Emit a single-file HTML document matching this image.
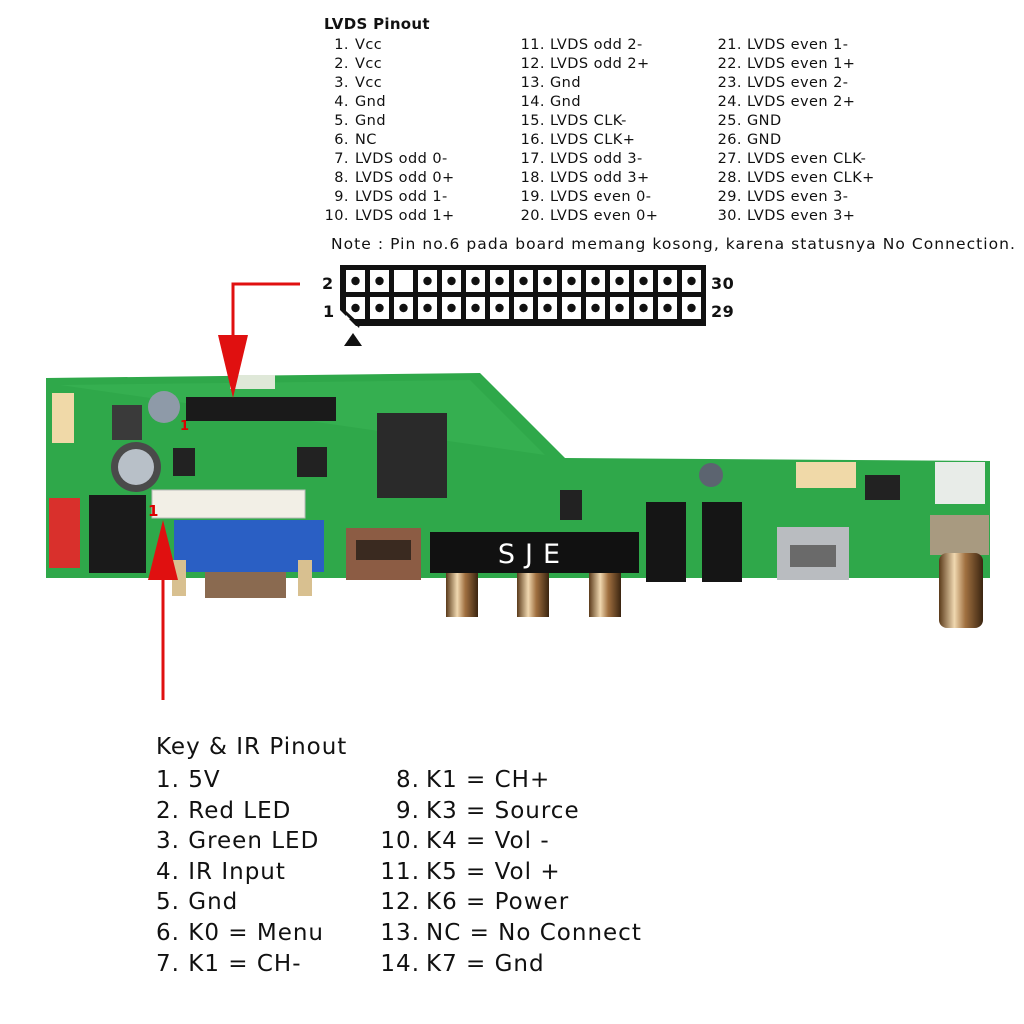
<!DOCTYPE html>
<html><head><meta charset="utf-8"><style>
html,body{margin:0;padding:0;background:#fff;width:1024px;height:1024px;overflow:hidden}
svg{display:block}
.t{font-family:"DejaVu Sans","Liberation Sans",sans-serif;font-size:14.5px;fill:#111;letter-spacing:0.45px}
.k{font-family:"DejaVu Sans","Liberation Sans",sans-serif;font-size:23px;fill:#111;letter-spacing:1px}
</style></head><body>
<svg width="1024" height="1024" viewBox="0 0 1024 1024" xmlns="http://www.w3.org/2000/svg">
<defs>
<pattern id="cell" x="343" y="268" width="24" height="27" patternUnits="userSpaceOnUse">
<rect width="24" height="27" fill="#111"/><rect x="3" y="2" width="19" height="22" fill="#fff"/><circle cx="12.5" cy="13" r="4.2" fill="#111"/>
</pattern>
<linearGradient id="gold" x1="0" x2="1"><stop offset="0" stop-color="#5a3a1a"/><stop offset=".35" stop-color="#f0d8b0"/><stop offset=".6" stop-color="#a07040"/><stop offset="1" stop-color="#3a2410"/></linearGradient>
</defs>
<text class="t" x="324" y="29" style="font-weight:bold;font-size:15px;letter-spacing:0.3px">LVDS Pinout</text>
<g class="t" text-anchor="end">
<text x="349" y="49">1.</text><text x="349" y="68">2.</text><text x="349" y="87">3.</text><text x="349" y="106">4.</text><text x="349" y="125">5.</text><text x="349" y="144">6.</text><text x="349" y="163">7.</text><text x="349" y="182">8.</text><text x="349" y="201">9.</text><text x="349" y="220">10.</text>
<text x="545" y="49">11.</text><text x="545" y="68">12.</text><text x="545" y="87">13.</text><text x="545" y="106">14.</text><text x="545" y="125">15.</text><text x="545" y="144">16.</text><text x="545" y="163">17.</text><text x="545" y="182">18.</text><text x="545" y="201">19.</text><text x="545" y="220">20.</text>
<text x="742" y="49">21.</text><text x="742" y="68">22.</text><text x="742" y="87">23.</text><text x="742" y="106">24.</text><text x="742" y="125">25.</text><text x="742" y="144">26.</text><text x="742" y="163">27.</text><text x="742" y="182">28.</text><text x="742" y="201">29.</text><text x="742" y="220">30.</text>
</g>
<g class="t">
<text x="355" y="49">Vcc</text><text x="355" y="68">Vcc</text><text x="355" y="87">Vcc</text><text x="355" y="106">Gnd</text><text x="355" y="125">Gnd</text><text x="355" y="144">NC</text><text x="355" y="163">LVDS odd 0-</text><text x="355" y="182">LVDS odd 0+</text><text x="355" y="201">LVDS odd 1-</text><text x="355" y="220">LVDS odd 1+</text>
<text x="550" y="49">LVDS odd 2-</text><text x="550" y="68">LVDS odd 2+</text><text x="550" y="87">Gnd</text><text x="550" y="106">Gnd</text><text x="550" y="125">LVDS CLK-</text><text x="550" y="144">LVDS CLK+</text><text x="550" y="163">LVDS odd 3-</text><text x="550" y="182">LVDS odd 3+</text><text x="550" y="201">LVDS even 0-</text><text x="550" y="220">LVDS even 0+</text>
<text x="747" y="49">LVDS even 1-</text><text x="747" y="68">LVDS even 1+</text><text x="747" y="87">LVDS even 2-</text><text x="747" y="106">LVDS even 2+</text><text x="747" y="125">GND</text><text x="747" y="144">GND</text><text x="747" y="163">LVDS even CLK-</text><text x="747" y="182">LVDS even CLK+</text><text x="747" y="201">LVDS even 3-</text><text x="747" y="220">LVDS even 3+</text>
<text x="331" y="249" style="font-size:15.5px;letter-spacing:1.05px">Note : Pin no.6 pada board memang kosong, karena statusnya No Connection.</text>
</g>
<!-- connector -->
<rect x="340" y="265" width="366" height="61" fill="#111"/>
<rect x="343" y="268" width="360" height="54" fill="url(#cell)"/>
<rect x="394" y="270" width="19" height="22" fill="#fff"/>
<polygon points="340,300 340,310 357,327 340,327" fill="#fff"/>
<polygon points="343,300 346,300 346,311 360,324 359,328 342,311" fill="#111"/>
<polygon points="353,333 344,346 362,346" fill="#111"/>
<g class="t" style="font-weight:bold;font-size:16px;letter-spacing:0.5px">
<text x="322" y="289">2</text><text x="323" y="317">1</text><text x="711" y="289">30</text><text x="711" y="317">29</text>
</g>
<!-- board -->
<polygon points="46,378 480,373 565,458 990,461 990,578 46,578" fill="#2fa84a"/>
<polygon points="60,385 470,380 545,455" fill="#3cb655" opacity=".5"/>
<rect x="186" y="397" width="150" height="24" fill="#1a1a1a"/>
<rect x="230" y="375" width="45" height="14" fill="#dfe8d8"/>
<rect x="377" y="413" width="70" height="85" fill="#2a2a2a"/>
<rect x="52" y="393" width="22" height="50" fill="#f0d9a8"/>
<rect x="112" y="405" width="30" height="35" fill="#3a3a3a"/>
<circle cx="164" cy="407" r="16" fill="#8e9aa8"/>
<circle cx="136" cy="467" r="25" fill="#4a4a4a"/><circle cx="136" cy="467" r="18" fill="#b8c0c8"/>
<rect x="173" y="448" width="22" height="28" fill="#222"/>
<rect x="297" y="447" width="30" height="30" fill="#222"/>
<rect x="560" y="490" width="22" height="30" fill="#222"/>
<circle cx="711" cy="475" r="12" fill="#5c6470"/>
<rect x="796" y="462" width="60" height="26" fill="#f0d9a8"/>
<rect x="865" y="475" width="35" height="25" fill="#222"/>
<rect x="935" y="462" width="50" height="42" fill="#e8ece8"/>
<rect x="152" y="490" width="153" height="28" fill="#f2efe6" stroke="#bbb"/>
<rect x="49" y="498" width="31" height="70" fill="#d9302c"/>
<rect x="89" y="495" width="57" height="78" fill="#1a1a1a"/>
<rect x="174" y="520" width="150" height="52" fill="#2a5fc4"/>
<rect x="205" y="572" width="81" height="26" fill="#8a6a50"/>
<rect x="172" y="560" width="14" height="36" fill="#d8c090"/>
<rect x="298" y="560" width="14" height="36" fill="#d8c090"/>
<rect x="346" y="528" width="75" height="52" fill="#8c5c44"/>
<rect x="356" y="540" width="55" height="20" fill="#3a2a20"/>
<rect x="446" y="570" width="32" height="47" fill="url(#gold)"/>
<rect x="517" y="570" width="32" height="47" fill="url(#gold)"/>
<rect x="589" y="570" width="32" height="47" fill="url(#gold)"/>
<rect x="430" y="532" width="209" height="41" fill="#111"/>
<text x="534" y="563" text-anchor="middle" style="font-family:'DejaVu Sans',sans-serif;font-size:27px;fill:#fff;letter-spacing:10px">SJE</text>
<rect x="646" y="502" width="40" height="80" fill="#151515"/>
<rect x="702" y="502" width="40" height="80" fill="#151515"/>
<rect x="777" y="527" width="72" height="53" fill="#b9bcc0"/>
<rect x="790" y="545" width="46" height="22" fill="#6a6a6a"/>
<rect x="930" y="515" width="59" height="40" fill="#a89a80"/>
<rect x="939" y="553" width="44" height="75" rx="8" fill="url(#gold)"/>
<!-- red markers -->
<text x="180" y="430" style="font-family:'DejaVu Sans',sans-serif;font-size:13px;font-weight:bold;fill:#d00">1</text>
<text x="148" y="516" style="font-family:'DejaVu Sans',sans-serif;font-size:15px;font-weight:bold;fill:#d00">1</text>
<!-- arrows -->
<polyline points="300,284 233,284 233,345" fill="none" stroke="#e01010" stroke-width="3"/>
<polygon points="218,335 248,335 233,398" fill="#e01010"/>
<line x1="163" y1="700" x2="163" y2="555" stroke="#e01010" stroke-width="3"/>
<polygon points="148,580 178,580 163,520" fill="#e01010"/>
<!-- key & IR -->
<g class="k">
<text x="156" y="754">Key &amp; IR Pinout</text>
<text x="156" y="787">1. 5V</text><text x="156" y="818">2. Red LED</text><text x="156" y="848">3. Green LED</text><text x="156" y="879">4. IR Input</text><text x="156" y="909">5. Gnd</text><text x="156" y="940">6. K0 = Menu</text><text x="156" y="971">7. K1 = CH-</text>
</g>
<g class="k" text-anchor="end">
<text x="420" y="787">8.</text><text x="420" y="818">9.</text><text x="420" y="848">10.</text><text x="420" y="879">11.</text><text x="420" y="909">12.</text><text x="420" y="940">13.</text><text x="420" y="971">14.</text>
</g>
<g class="k">
<text x="426" y="787">K1 = CH+</text><text x="426" y="818">K3 = Source</text><text x="426" y="848">K4 = Vol -</text><text x="426" y="879">K5 = Vol +</text><text x="426" y="909">K6 = Power</text><text x="426" y="940">NC = No Connect</text><text x="426" y="971">K7 = Gnd</text>
</g>
</svg>
</body></html>
